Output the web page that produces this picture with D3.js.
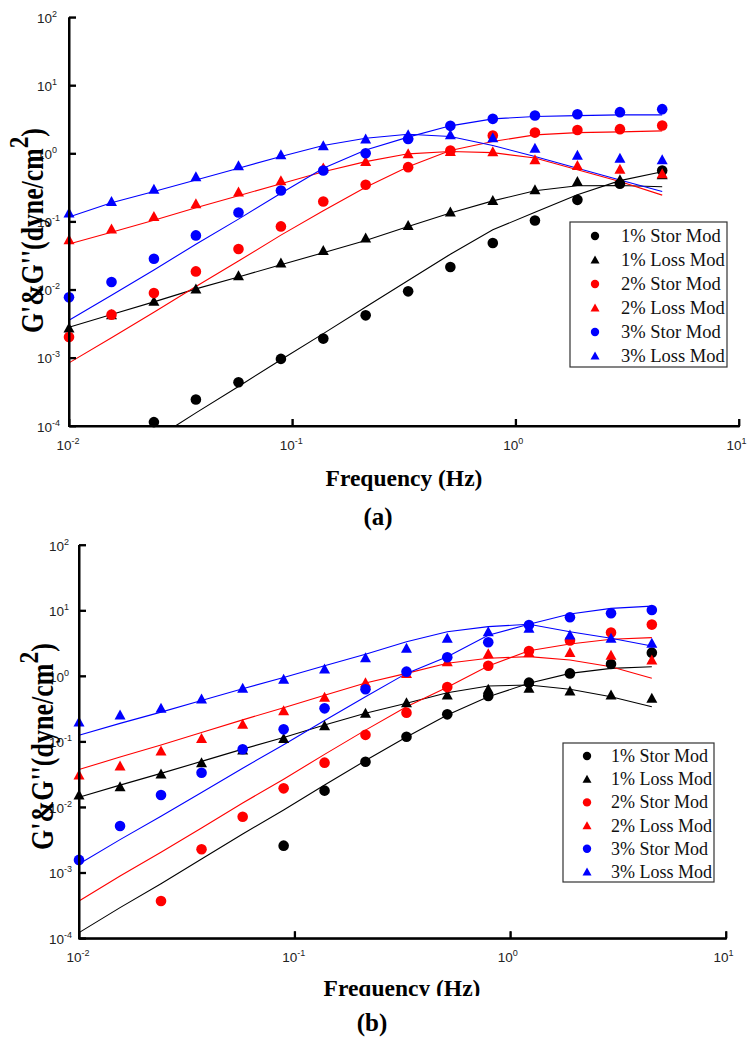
<!DOCTYPE html>
<html><head><meta charset="utf-8">
<script src="https://cdn.jsdelivr.net/npm/d3@7"></script>
<style>
body{margin:0;background:#fff;}
svg{display:block;}
</style></head><body>
<svg id="c" width="756" height="1042"></svg>
<script>
// ---------- shared data ----------
const freq = [0.01, 0.0155, 0.024, 0.037, 0.0574, 0.0889, 0.1376, 0.213, 0.33, 0.51, 0.79, 1.22, 1.89, 2.93, 4.53];
const seriesNames = ["1% Stor Mod","1% Loss Mod","2% Stor Mod","2% Loss Mod","3% Stor Mod","3% Loss Mod"];
const seriesColors = ["#000000","#000000","#ff0000","#ff0000","#0000ff","#0000ff"];
const seriesShapes = ["circle","triangle","circle","triangle","circle","triangle"];
const xTicks = [0.01, 0.1, 1, 10];
const xTickExp = ["-2","-1","0","1"];
const yTicks = [1e-4, 1e-3, 1e-2, 1e-1, 1, 10, 100];
const yTickExp = ["-4","-3","-2","-1","0","1","2"];

// ---------- panel (a) data ----------
const aStor1 = [null, null, 0.000114, 0.000245, 0.000439, 0.000967, 0.00192, 0.00421, 0.00948, 0.0216, 0.0486, 0.104, 0.209, 0.36, 0.563];
const aLoss1 = [0.00275, 0.0043, 0.00676, 0.0103, 0.0161, 0.0247, 0.0378, 0.0574, 0.0879, 0.138, 0.205, 0.294, 0.389, 0.411, 0.487];
const aStor2 = [0.00203, 0.00431, 0.00898, 0.0186, 0.0396, 0.0851, 0.198, 0.348, 0.631, 1.11, 1.84, 2.03, 2.22, 2.28, 2.58];
const aLoss2 = [0.0543, 0.0778, 0.119, 0.183, 0.272, 0.398, 0.611, 0.764, 0.99, 1.07, 1.06, 0.81, 0.667, 0.59, 0.506];
const aStor3 = [0.00774, 0.013, 0.0286, 0.0628, 0.1365, 0.286, 0.563, 1.01, 1.64, 2.55, 3.23, 3.61, 3.78, 4.05, 4.48];
const aLoss3 = [0.134, 0.198, 0.30, 0.455, 0.66, 0.957, 1.30, 1.64, 1.88, 1.88, 1.70, 1.2, 0.94, 0.85, 0.81];

const aFitStor1 = [1.1e-5, 2.6e-5, 6.3e-5, 1.56e-4, 3.8e-4, 0.00094, 0.00227, 0.0056, 0.0137, 0.0333, 0.076, 0.137, 0.248, 0.40, 0.54];
const aFitLoss1 = [0.00282, 0.00434, 0.00664, 0.0103, 0.0154, 0.0233, 0.035, 0.053, 0.085, 0.134, 0.202, 0.284, 0.336, 0.34, 0.325];
const aFitStor2 = [0.000845, 0.00198, 0.00468, 0.0112, 0.0264, 0.0634, 0.1445, 0.32, 0.64, 1.11, 1.5, 1.88, 2.03, 2.08, 2.15];
const aFitLoss2 = [0.047, 0.07, 0.105, 0.16, 0.24, 0.36, 0.54, 0.76, 0.99, 1.07, 1.03, 0.86, 0.577, 0.389, 0.245];
const aFitStor3 = [0.00356, 0.0083, 0.0195, 0.0467, 0.109, 0.262, 0.61, 1.13, 1.74, 2.55, 3.23, 3.5, 3.6, 3.7, 3.7];
const aFitLoss3 = [0.117, 0.19, 0.277, 0.41, 0.61, 0.904, 1.31, 1.68, 1.92, 1.78, 1.31, 0.904, 0.61, 0.41, 0.277];

// ---------- panel (b) data ----------
const bStor1 = [null, null, null, null, null, 0.00259, 0.0179, 0.0494, 0.119, 0.261, 0.497, 0.794, 1.1, 1.53, 2.28];
const bLoss1 = [0.01535, 0.0205, 0.032, 0.0478, 0.0746, 0.112, 0.175, 0.27, 0.393, 0.515, 0.628, 0.65, 0.593, 0.515, 0.458];
const bStor2 = [null, null, 0.000371, 0.00228, 0.00716, 0.0194, 0.0478, 0.127, 0.277, 0.68, 1.44, 2.42, 3.5, 4.63, 6.1];
const bLoss2 = [0.031, 0.0425, 0.072, 0.112, 0.184, 0.297, 0.474, 0.793, 1.1, 1.66, 2.2, 2.3, 2.29, 2.08, 1.76];
const bStor3 = [0.00157, 0.00517, 0.01535, 0.0336, 0.0764, 0.154, 0.322, 0.63, 1.17, 1.94, 3.28, 6.0, 7.89, 9.08, 10.2];
const bLoss3 = [0.2, 0.255, 0.322, 0.448, 0.65, 0.893, 1.28, 1.91, 2.65, 3.77, 4.76, 5.36, 4.24, 3.77, 3.16];

const bFitStor1 = [0.000122, 0.000294, 0.00068, 0.00162, 0.0039, 0.00906, 0.0218, 0.0514, 0.118, 0.255, 0.485, 0.776, 1.1, 1.31, 1.39];
const bFitLoss1 = [0.0142, 0.0217, 0.0328, 0.05, 0.0769, 0.116, 0.179, 0.272, 0.385, 0.558, 0.706, 0.73, 0.63, 0.485, 0.341];
const bFitStor2 = [0.00037, 0.00089, 0.00206, 0.00483, 0.0116, 0.0267, 0.064, 0.15, 0.341, 0.675, 1.43, 2.44, 3.09, 3.64, 3.86];
const bFitLoss2 = [0.0375, 0.0583, 0.089, 0.138, 0.215, 0.328, 0.512, 0.787, 1.1, 1.57, 1.87, 1.98, 1.76, 1.39, 0.925];
const bFitStor3 = [0.00136, 0.0032, 0.00726, 0.0168, 0.0394, 0.0895, 0.21, 0.483, 1.1, 1.98, 4.2, 6.2, 8.87, 10.8, 11.7];
const bFitLoss3 = [0.125, 0.19, 0.282, 0.424, 0.64, 0.953, 1.44, 2.16, 3.35, 4.76, 5.68, 6.17, 4.76, 3.77, 2.88];

// ---------- drawing ----------
const svg = d3.select("#c");
const SERIF = "'Liberation Serif','Times New Roman',serif";
const SANS = "'Liberation Sans',Arial,sans-serif";

function triPath(cx, cy, w, h) {
  return `M${cx},${cy - h*0.55}L${cx + w/2},${cy + h*0.45}L${cx - w/2},${cy + h*0.45}Z`;
}

function drawPanel(cfg) {
  const x = d3.scaleLog().domain([0.01, 10]).range(cfg.xr);
  const y = d3.scaleLog().domain([1e-4, 100]).range(cfg.yr);
  const root = svg.append("g").attr("class", "panel-" + cfg.id);
  const x0 = cfg.xr[0], x1 = cfg.xr[1], yBot = cfg.yr[0], yTop = cfg.yr[1];

  // fitted curves, trimmed where they leave the bottom of the y domain
  const line = d3.line().x(d => x(d[0])).y(d => y(d[1]));
  const plot = root.append("g").attr("class", "fits");
  cfg.fits.forEach((arr, s) => {
    const data = freq.map((f, i) => [f, arr[i]]);
    const pts = [];
    for (let i = 0; i < data.length; i++) {
      const cur = data[i];
      if (cur[1] >= 1e-4) {
        if (i > 0 && data[i-1][1] < 1e-4) {
          const a = data[i-1], b = cur;
          const t = (Math.log10(1e-4) - Math.log10(a[1])) / (Math.log10(b[1]) - Math.log10(a[1]));
          const lf = Math.log10(a[0]) + t * (Math.log10(b[0]) - Math.log10(a[0]));
          pts.push([Math.pow(10, lf), 1e-4]);
        }
        pts.push(cur);
      }
    }
    plot.append("path").datum(pts)
      .attr("d", line).attr("fill", "none").attr("stroke", seriesColors[s]).attr("stroke-width", 1.1);
  });

  // markers
  const ptsG = root.append("g").attr("class", "points");
  cfg.pts.forEach((arr, s) => {
    const data = freq.map((f, i) => [f, arr[i]]).filter(d => d[1] != null);
    if (seriesShapes[s] === "circle") {
      ptsG.selectAll(null).data(data).enter().append("circle")
        .attr("cx", d => x(d[0])).attr("cy", d => y(d[1])).attr("r", 5.3)
        .attr("fill", seriesColors[s]);
    } else {
      ptsG.selectAll(null).data(data).enter().append("path")
        .attr("d", d => triPath(x(d[0]), y(d[1]), 11, 10))
        .attr("fill", seriesColors[s]);
    }
  });

  // axes
  const gx = root.append("g").attr("class", "xaxis").attr("transform", `translate(0,${yBot})`)
    .call(d3.axisBottom(x).tickValues(xTicks).tickSizeInner(-7).tickSizeOuter(0).tickFormat(""));
  const gy = root.append("g").attr("class", "yaxis").attr("transform", `translate(${x0},0)`)
    .call(d3.axisLeft(y).tickValues(yTicks).tickSizeInner(-7).tickSizeOuter(0).tickFormat(""));
  [gx, gy].forEach(a => {
    a.select(".domain").attr("stroke", "#000").attr("stroke-width", 2);
    a.selectAll(".tick line").attr("stroke", "#000").attr("stroke-width", 1.8);
  });
  const bars = root.append("g").attr("class", "axis-bars");
  bars.append("rect").attr("x", x0 - 1).attr("y", yBot - 1).attr("width", x1 - x0 + 2).attr("height", 2).attr("fill", "#000");
  bars.append("rect").attr("x", x0 - 1).attr("y", yTop).attr("width", 2).attr("height", yBot - yTop + 1).attr("fill", "#000");
  xTicks.forEach(t => bars.append("rect").attr("x", x(t) - 0.9).attr("y", yBot - 7).attr("width", 1.8).attr("height", 7).attr("fill", "#000"));
  yTicks.forEach(t => bars.append("rect").attr("x", x0).attr("y", y(t) - 0.9).attr("width", 7).attr("height", 1.8).attr("fill", "#000"));

  gx.selectAll(".tick").each(function(d, i) {
    const t = d3.select(this).append("text").attr("x", -13).attr("y", 24)
      .attr("text-anchor", "start").attr("fill", "#222")
      .style("font-family", SANS).style("font-size", "13.5px");
    t.append("tspan").text("10");
    t.append("tspan").attr("dy", -6).style("font-size", "9px").text(xTickExp[i]);
  });
  gy.selectAll(".tick").each(function(d, i) {
    const t = d3.select(this).append("text").attr("x", cfg.yLabX).attr("y", 5)
      .attr("text-anchor", "start").attr("fill", "#222")
      .style("font-family", SANS).style("font-size", "13.5px");
    t.append("tspan").text("10");
    t.append("tspan").attr("dy", -6).style("font-size", "9px").text(yTickExp[i]);
  });

  // legend
  const L = cfg.legend;
  const lg = root.append("g").attr("class", "legend");
  lg.append("rect").attr("x", L.x).attr("y", L.y).attr("width", L.w).attr("height", L.h)
    .attr("fill", "#fff").attr("stroke", "#333").attr("stroke-width", 1.2);
  seriesNames.forEach((nm, s) => {
    const cy = L.first + s * L.row;
    if (seriesShapes[s] === "circle") {
      lg.append("circle").attr("cx", L.mx).attr("cy", cy).attr("r", 4.2).attr("fill", seriesColors[s]);
    } else {
      lg.append("path").attr("d", triPath(L.mx, cy, 9, 8)).attr("fill", seriesColors[s]);
    }
    lg.append("text").attr("x", L.tx).attr("y", cy + 6).text(nm)
      .style("font-family", SERIF).style("font-size", L.fs + "px").attr("fill", "#111");
  });

  // x title
  root.append("text").attr("x", cfg.xTitle[0]).attr("y", cfg.xTitle[1])
    .attr("text-anchor", "middle").style("font-family", SERIF).style("font-weight", "bold")
    .style("font-size", "23.5px").text("Frequency (Hz)");
  if (cfg.xTitleCut) {
    root.append("rect").attr("x", 250).attr("y", cfg.xTitleCut).attr("width", 260).attr("height", 7).attr("fill", "#fff");
  }
  // panel label
  root.append("text").attr("x", cfg.label[0]).attr("y", cfg.label[1])
    .attr("text-anchor", "middle").style("font-family", SERIF).style("font-weight", "bold")
    .style("font-size", "25px").text(cfg.labelText);

  // y title
  const yg = root.append("g").attr("transform", `translate(${cfg.yTitle[0]},${cfg.yTitle[1]}) rotate(-90)`);
  const inner = yg.append("g");
  const yt = inner.append("text").attr("x", 0).attr("y", 0).attr("text-anchor", "start")
    .style("font-family", SERIF).style("font-weight", "bold").style("font-size", "31px");
  yt.append("tspan").text("G'&G''(dyne/cm");
  yt.append("tspan").attr("dy", -15).style("font-size", "28px").text("2");
  yt.append("tspan").attr("dy", 15).text(")");
  const len = yt.node().getComputedTextLength();
  inner.attr("transform", `scale(${cfg.yTitleLen / len},1)`);
}

drawPanel({
  id: "a", xr: [69, 739], yr: [426, 17.3], yLabX: -32,
  pts: [aStor1, aLoss1, aStor2, aLoss2, aStor3, aLoss3],
  fits: [aFitStor1, aFitLoss1, aFitStor2, aFitLoss2, aFitStor3, aFitLoss3],
  legend: {x: 570, y: 222, w: 157, h: 145, first: 236, row: 24, mx: 595, tx: 621, fs: 18.5},
  xTitle: [404, 486], label: [378, 525], labelText: "(a)",
  yTitle: [43, 333], yTitleLen: 205
});
drawPanel({
  id: "b", xr: [79, 726], yr: [938.3, 545], yLabX: -30,
  pts: [bStor1, bLoss1, bStor2, bLoss2, bStor3, bLoss3],
  fits: [bFitStor1, bFitLoss1, bFitStor2, bFitLoss2, bFitStor3, bFitLoss3],
  legend: {x: 563, y: 743, w: 151, h: 139, first: 756, row: 23.2, mx: 587, tx: 611, fs: 18},
  xTitle: [402, 996], xTitleCut: 996, label: [372, 1031], labelText: "(b)",
  yTitle: [53, 850], yTitleLen: 207
});
</script>
</body></html>
